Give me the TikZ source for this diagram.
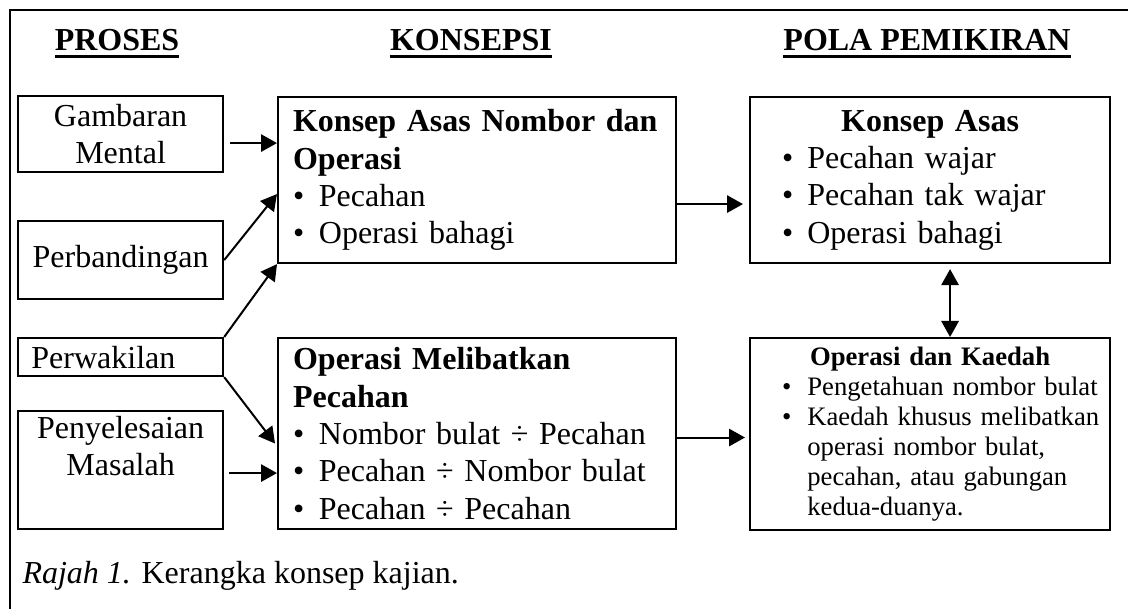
\documentclass[tikz,border=0pt]{standalone}
\usepackage{fontspec}
\setmainfont{Liberation Serif}
\usepackage{tikz}
\usetikzlibrary{positioning,arrows.meta,calc}

\newcommand{\butir}{\hspace*{8pt}\makebox[9.5pt][l]{\textbullet}}
\newcommand{\sambung}{\hspace*{17.5pt}}
\newcommand{\titik}{\textbullet\hspace{5.5pt}}
\newcommand{\bagi}{\char"00F7}
\newcommand{\tengah}[1]{\makebox[127pt]{#1}}
\newcommand{\garis}[1]{\setbox0\hbox{#1}\rlap{\rule[-2.6pt]{\wd0}{1.1pt}}\box0}

\begin{document}
\begin{tikzpicture}
		[x=0.375pt,y=-0.375pt,
		every node/.style={font=\fontsize{12}{14}\selectfont},
		kotak/.style={draw,line width=0.8pt,inner xsep=5.6pt,inner ysep=1pt,anchor=north west},
		proses/.style={kotak,inner xsep=5pt,align=center,text width=66.9pt,minimum width=76.9pt},
		konsepsi/.style={kotak,align=left,text width=138pt,minimum width=149.25pt},
		pola/.style={kotak,inner xsep=4pt,align=left,text width=127pt,minimum width=135pt},
		judul/.style={font=\fontsize{12}{14}\selectfont\bfseries,anchor=base,inner sep=0pt},
		panah/.style={line width=0.75pt,-{Triangle[length=6pt,width=6.5pt]}},
		dwipanah/.style={line width=0.75pt,{Triangle[length=6pt,width=6.5pt]}-{Triangle[length=6pt,width=6.5pt]}}]
		\useasboundingbox (0,0) rectangle (1128,609);
		\draw[line width=0.8pt] (10,609) -- (10,10) -- (1128,10);
		\node[judul] (hproses) at (117,51) {\garis{PROSES}};
		\node[judul] (hkonsepsi) at (471,51) {\garis{KONSEPSI}};
		\node[judul] (hpola) at (927,51) {\garis{POLA PEMIKIRAN}};
		\node[proses,minimum height=28.5pt] (gm) at (17,95) {Gambaran\\Mental};
		\node[proses,minimum height=29.25pt] (pb) at (17,220) {Perbandingan};
		\node[proses,align=left,minimum height=14.25pt] (pw) at (17,337) {Perwakilan};
		\node[proses,minimum height=44.25pt] (ps) at (17,410) {Penyelesaian\\Masalah\\\strut};
		\node[konsepsi,minimum height=62.25pt] (km) at (277,96) {\textbf{Konsep Asas Nombor dan}\\\textbf{Operasi}\\\titik Pecahan\\\titik Operasi bahagi};
		\node[konsepsi,minimum height=71.6pt] (om) at (277,337) {\textbf{Operasi Melibatkan}\\\textbf{Pecahan}\\\titik Nombor bulat \bagi{} Pecahan\\\titik Pecahan \bagi{} Nombor bulat\\\titik Pecahan \bagi{} Pecahan};
		\node[pola,minimum height=62.25pt] (ka) at (749,96) {\tengah{\bfseries Konsep Asas}\\\butir Pecahan wajar\\\butir Pecahan tak wajar\\\butir Operasi bahagi};
		\node[pola,font=\fontsize{10}{11.3}\selectfont,minimum height=72pt] (ok) at (749,337) {\tengah{\bfseries Operasi dan Kaedah}\\\butir Pengetahuan nombor bulat\\\butir Kaedah khusus melibatkan\\\sambung operasi nombor bulat,\\\sambung pecahan, atau gabungan\\\sambung kedua-duanya.};
		\node[anchor=base west,inner sep=0pt] (rajah) at (22,583) {\textit{Rajah 1.} Kerangka konsep kajian.};
		\coordinate (g1) at ([shift={(6,9)}]gm.east);
		\coordinate (s1) at ([shift={(5,3)}]ps.east);
		\coordinate (k1) at ([shift={(0,24)}]km.east);
		\coordinate (o1) at ([shift={(0,4)}]om.east);
		\coordinate (d1) at ([shift={(20,5)}]ka.south);
		\draw[panah] (g1) -- (g1 -| km.west);
		\draw[panah] (pb.east) -- ([shift={(0,14)}]km.west);
		\draw[panah] (pw.north east) -- (km.south west);
		\draw[panah] (pw.south east) -- ([shift={(-2,10)}]om.west);
		\draw[panah] (s1) -- (s1 -| om.west);
		\draw[panah,shorten >=2.25pt] (k1) -- (k1 -| ka.west);
		\draw[panah,shorten >=1.5pt] (o1) -- (o1 -| ok.west);
		\draw[dwipanah] (d1) -- (d1 |- ok.north);
\end{tikzpicture}
\end{document}
